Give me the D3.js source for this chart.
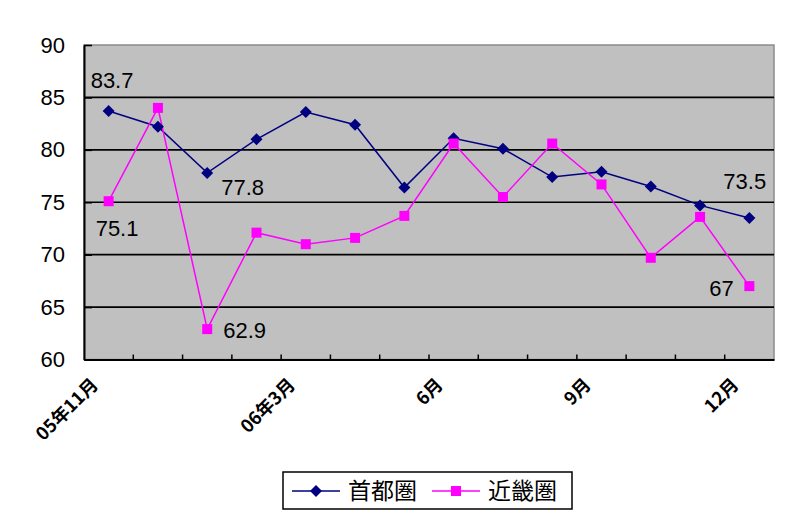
<!DOCTYPE html>
<html><head><meta charset="utf-8">
<script src="https://cdn.jsdelivr.net/npm/d3@7"></script>
<style>body{margin:0;background:#fff}svg{display:block}</style>
</head><body>
<svg id="c" width="800" height="524"></svg>
<script>
const months = ["05年11月","05年12月","06年1月","06年2月","06年3月","06年4月","06年5月","06年6月","06年7月","06年8月","06年9月","06年10月","06年11月","06年12月"];
const tickLabels = {"05年11月":"05年11月","06年3月":"06年3月","06年6月":"6月","06年9月":"9月","06年12月":"12月"};
const shuto = [83.7,82.2,77.8,81.0,83.6,82.4,76.4,81.1,80.1,77.4,77.9,76.5,74.7,73.5];
const kinki = [75.1,84.0,62.9,72.1,71.0,71.6,73.7,80.6,75.5,80.6,76.7,69.7,73.6,67];
const yTicks = [60,65,70,75,80,85,90];
const seriesNames = ["首都圏","近畿圏"];

const svg = d3.select("#c");
const L=84, R=774, T=45, B=359.5;
const x = d3.scaleBand().domain(months).range([L,R]).padding(0);
const y = d3.scaleLinear().domain([60,90]).range([B,T]);
const cx = d => x(d)+x.bandwidth()/2;
const font = "'Liberation Sans', Arial, sans-serif";
const jfont = "'Noto Sans CJK JP', sans-serif";

// plot background
svg.append("rect").attr("x",L).attr("y",T).attr("width",R-L).attr("height",B-T)
  .attr("fill","#c0c0c0").attr("stroke","#8c8c8c").attr("stroke-width",1.5);

// gridlines
svg.append("g").selectAll("line").data(yTicks.filter(v=>v>60&&v<90)).join("line")
  .attr("x1",L).attr("x2",R).attr("y1",d=>y(d)).attr("y2",d=>y(d))
  .attr("stroke","#000").attr("stroke-width",1.6);

// y axis
const ya = svg.append("g").attr("transform",`translate(${L},0)`)
  .call(d3.axisLeft(y).tickValues(yTicks).tickSizeInner(-8).tickSizeOuter(0).tickPadding(19));
ya.select(".domain").attr("stroke","#000").attr("stroke-width",2);
ya.selectAll(".tick line").attr("stroke","#000").attr("stroke-width",1.6);
ya.selectAll("text").attr("font-family",font).attr("font-size",22).attr("fill","#000");

// x axis
const xa = svg.append("g").attr("transform",`translate(0,${B})`)
  .call(d3.axisBottom(x).tickValues([]).tickSizeOuter(0));
xa.select(".domain").attr("stroke","#000").attr("stroke-width",2);
const bounds = months.slice(1).map(m=>x(m));
svg.append("g").selectAll("line").data(bounds).join("line")
  .attr("x1",d=>d).attr("x2",d=>d).attr("y1",B).attr("y2",B-5)
  .attr("stroke","#000").attr("stroke-width",1.5);

// x labels
svg.append("g").selectAll("text").data(Object.keys(tickLabels)).join("text")
  .attr("transform",d=>`translate(${cx(d)-14},${B+22}) rotate(-45)`)
  .attr("text-anchor","end").attr("dy","0.35em")
  .attr("font-family",jfont).attr("font-weight","bold").attr("font-size",18)
  .attr("fill","#000").text(d=>tickLabels[d]);

// lines
const line = d3.line().x((d,i)=>cx(months[i])).y(d=>y(d));
svg.append("path").datum(shuto).attr("d",line).attr("fill","none").attr("stroke","#000080").attr("stroke-width",1.5);
svg.append("path").datum(kinki).attr("d",line).attr("fill","none").attr("stroke","#ff00ff").attr("stroke-width",1.5);

// markers
svg.append("g").selectAll("path").data(shuto).join("path")
  .attr("transform",(d,i)=>`translate(${cx(months[i])},${y(d)})`)
  .attr("d","M0,-6L6,0L0,6L-6,0Z").attr("fill","#000080");
svg.append("g").selectAll("rect").data(kinki).join("rect")
  .attr("x",(d,i)=>cx(months[i])-5).attr("y",d=>y(d)-5).attr("width",10).attr("height",10)
  .attr("fill","#ff00ff");

// data labels
const labels = [
  {s:shuto,i:0,dx:-18,dy:-31},
  {s:kinki,i:0,dx:-13,dy:27},
  {s:shuto,i:2,dx:14,dy:14},
  {s:kinki,i:2,dx:16,dy:1},
  {s:shuto,i:13,dx:-26,dy:-37},
  {s:kinki,i:13,dx:-40,dy:2}
];
svg.append("g").selectAll("text").data(labels).join("text")
  .attr("x",d=>cx(months[d.i])+d.dx).attr("y",d=>y(d.s[d.i])+d.dy)
  .attr("font-family",font).attr("font-size",22).attr("fill","#000")
  .attr("dy","0.35em").text(d=>String(d.s[d.i]));

// legend
const lg = svg.append("g");
lg.append("rect").attr("x",283).attr("y",472).attr("width",289).attr("height",37)
  .attr("fill","#fff").attr("stroke","#000").attr("stroke-width",1.5);
const items = [{n:seriesNames[0],c:"#000080",m:"d",x0:292},{n:seriesNames[1],c:"#ff00ff",m:"s",x0:432}];
items.forEach(it=>{
  const g = lg.append("g");
  g.append("line").attr("x1",it.x0).attr("x2",it.x0+48).attr("y1",491).attr("y2",491).attr("stroke",it.c).attr("stroke-width",1.5);
  if(it.m==="d") g.append("path").attr("transform",`translate(${it.x0+24},491)`).attr("d","M0,-6L6,0L0,6L-6,0Z").attr("fill",it.c);
  else g.append("rect").attr("x",it.x0+19).attr("y",486).attr("width",10).attr("height",10).attr("fill",it.c);
  g.append("text").attr("x",it.x0+56).attr("y",491).attr("dy","0.36em")
    .attr("font-family",jfont).attr("font-size",23).attr("fill","#000").text(it.n);
});
</script>
</body></html>
